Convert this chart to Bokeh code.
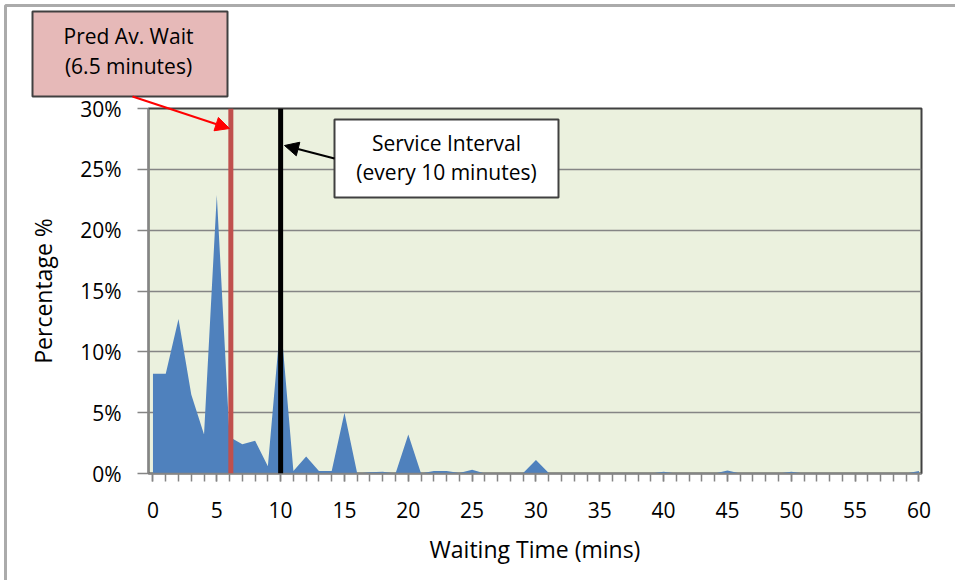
from bokeh.plotting import figure
from bokeh.models import (Span, Label, Arrow, NormalHead, PolyAnnotation,
                          FixedTicker, Range1d, ColumnDataSource)
from bokeh.embed import file_html
from bokeh.resources import INLINE

# ---------------- data ----------------
waiting_time = list(range(61))
percentage = [8.2, 8.2, 12.7, 6.5, 3.2, 22.9, 3.0, 2.4, 2.7, 0.6,
              12.6, 0.2, 1.4, 0.2, 0.2, 5.0, 0.0, 0.1, 0.15, 0.0,
              3.2, 0.0, 0.2, 0.2, 0.05, 0.3, 0.0, 0.0, 0.0, 0.05,
              1.1, 0.05, 0.0, 0.0, 0.0, 0.0, 0.0, 0.0, 0.0, 0.0,
              0.15, 0.0, 0.0, 0.0, 0.0, 0.25, 0.0, 0.0, 0.0, 0.0,
              0.15, 0.0, 0.0, 0.0, 0.0, 0.0, 0.0, 0.0, 0.0, 0.0,
              0.2]
x_ticks = [0, 5, 10, 15, 20, 25, 30, 35, 40, 45, 50, 55, 60]
x_tick_labels = [str(t) for t in x_ticks]
y_ticks = [0, 5, 10, 15, 20, 25, 30]
y_tick_labels = ["0%", "5%", "10%", "15%", "20%", "25%", "30%"]
pred_av_wait_line = 6.1      # where the red marker is drawn
service_interval = 10        # black marker
pred_text = ["Pred Av. Wait", "(6.5 minutes)"]
service_text = ["Service Interval", "(every 10 minutes)"]
x_title = "Waiting Time (mins)"
y_title = "Percentage %"

# ---------------- layout ----------------
W, H = 955, 580
FL, FR, FT, FB = 148, 921, 108, 473
X0, X1 = -0.35, 60.2
Y0, Y1 = 0, 30
FONT = "Open Sans"
ABS = {"position": "absolute", "left": "0px", "top": "0px"}

p = figure(width=W, height=H, output_backend="svg", toolbar_location=None,
           x_range=Range1d(X0, X1), y_range=Range1d(Y0, Y1),
           min_border_left=FL, min_border_right=W - FR,
           min_border_top=FT, min_border_bottom=H - FB,
           background_fill_color="#EBF1DE", border_fill_color="white")
p.styles = ABS

p.outline_line_color = "#404040"
p.outline_line_width = 2

p.xgrid.visible = False
p.ygrid.ticker = FixedTicker(ticks=y_ticks)
p.ygrid.grid_line_color = "#858585"
p.ygrid.grid_line_width = 1.5

gray = "#858585"
# y axis
ya = p.yaxis[0]
ya.ticker = FixedTicker(ticks=y_ticks)
ya.major_label_overrides = dict(zip(y_ticks, y_tick_labels))
ya.major_tick_out = 11
ya.major_tick_in = 0
ya.minor_tick_line_color = None
ya.axis_line_color = gray
ya.axis_line_width = 1.5
ya.major_tick_line_color = gray
ya.major_tick_line_width = 1.5
ya.major_label_standoff = 16
ya.major_label_text_font = FONT
ya.major_label_text_font_size = "21px"
ya.major_label_text_color = "black"
ya.axis_label = y_title
ya.axis_label_text_font = FONT
ya.axis_label_text_font_size = "23px"
ya.axis_label_text_font_style = "normal"
ya.axis_label_text_color = "black"
ya.axis_label_standoff = 18

# x axis
xa = p.xaxis[0]
xa.ticker = FixedTicker(ticks=x_ticks, minor_ticks=waiting_time)
xa.major_label_overrides = dict(zip(x_ticks, x_tick_labels))
xa.major_tick_out = 8
xa.major_tick_in = 0
xa.minor_tick_out = 8
xa.minor_tick_in = 0
xa.axis_line_color = gray
xa.axis_line_width = 1.5
xa.major_tick_line_color = gray
xa.major_tick_line_width = 1.5
xa.minor_tick_line_color = gray
xa.minor_tick_line_width = 1.5
xa.major_label_standoff = 20
xa.major_label_text_font = FONT
xa.major_label_text_font_size = "21px"
xa.major_label_text_color = "black"
xa.axis_label = x_title
xa.axis_label_text_font = FONT
xa.axis_label_text_font_size = "23px"
xa.axis_label_text_font_style = "normal"
xa.axis_label_text_color = "black"
xa.axis_label_standoff = 12

# area series
src = ColumnDataSource(dict(x=waiting_time, y=percentage))
p.varea(x="x", y1=0, y2="y", source=src, fill_color="#4F81BD")

# vertical markers
p.add_layout(Span(location=pred_av_wait_line, dimension="height",
                  line_color="#C0504D", line_width=5))
p.add_layout(Span(location=service_interval, dimension="height",
                  line_color="black", line_width=5))

# ---------------- transparent overlay for callouts (pixel coordinates) ----------------
o = figure(width=W, height=H, output_backend="svg", toolbar_location=None,
           x_range=Range1d(0, W), y_range=Range1d(H, 0),
           x_axis_type=None, y_axis_type=None,
           min_border=0, min_border_left=0, min_border_right=0,
           min_border_top=0, min_border_bottom=0,
           background_fill_alpha=0, border_fill_alpha=0,
           outline_line_color=None)
o.styles = ABS
o.grid.visible = False

# outer chart border (top + left visible)
o.add_layout(PolyAnnotation(xs=[5, 1400, 1400, 5], ys=[5, 5, 900, 900],
                            fill_alpha=0, line_color="#ABABAB", line_alpha=1,
                            line_width=3))


def callout(x0, x1, y0, y1, fill, lines, cx, cys):
    o.add_layout(PolyAnnotation(xs=[x0, x1, x1, x0], ys=[y0, y0, y1, y1],
                                fill_color=fill, fill_alpha=1,
                                line_color="#404040", line_alpha=1,
                                line_width=2))
    for t, cy in zip(lines, cys):
        o.add_layout(Label(x=cx, y=cy, text=t, text_align="center",
                           text_baseline="middle", text_font=FONT,
                           text_font_size="21px", text_color="black"))


callout(32, 227, 11, 96, "#E6B9B8", pred_text, 128, [35, 65])
callout(334, 558, 119, 197, "white", service_text, 446, [142, 171])

o.add_layout(Arrow(end=NormalHead(size=14, fill_color="red", line_color="red"),
                   x_start=132, y_start=96, x_end=229, y_end=128,
                   line_color="red", line_width=2))
o.add_layout(Arrow(end=NormalHead(size=14, fill_color="black", line_color="black"),
                   x_start=334, y_start=158, x_end=284, y_end=145,
                   line_color="black", line_width=2))

open("out.html", "w").write(file_html([p, o], INLINE))
